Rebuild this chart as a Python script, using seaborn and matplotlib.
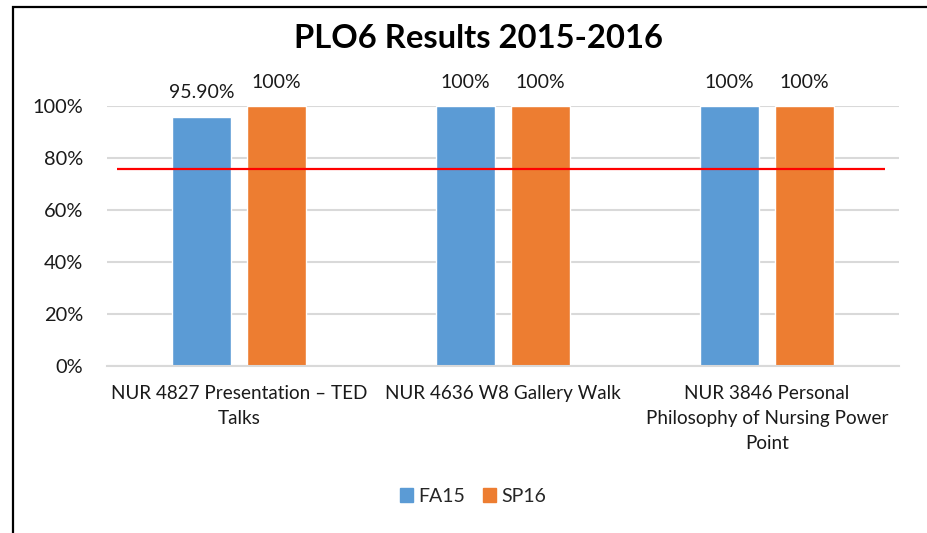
import pandas as pd
import numpy as np
import matplotlib
matplotlib.use('Agg')
import matplotlib.pyplot as plt
import matplotlib.patches as mpatches
import seaborn as sns

# Chart data
categories = ['NUR 4827 Presentation – TED\nTalks',
              'NUR 4636 W8 Gallery Walk',
              'NUR 3846 Personal\nPhilosophy of Nursing Power\nPoint']
terms = ['FA15', 'SP16']
fa15 = [0.959, 1.0, 1.0]
sp16 = [1.0, 1.0, 1.0]
fa15_labels = ['95.90%', '100%', '100%']
sp16_labels = ['100%', '100%', '100%']
target = 0.758
title = 'PLO6 Results 2015-2016'

# Long-form frame for seaborn
df = pd.DataFrame({'Course': categories * 2,
                   'Term': [terms[0]] * 3 + [terms[1]] * 3,
                   'Score': fa15 + sp16})

sns.set_style('white')
plt.rcParams['font.family'] = ['Lato', 'DejaVu Sans']

fig = plt.figure(figsize=(9.27, 5.33), dpi=100)
ax = fig.add_axes([0.1154, 0.3133, 0.8544, 0.4877])

sns.barplot(data=df, x='Course', y='Score', hue='Term',
            palette=['#5B9BD5', '#ED7D31'], width=0.568, gap=0.21,
            saturation=1, ax=ax, legend=False)

# value labels
for cont, labs in zip(ax.containers, [fa15_labels, sp16_labels]):
    ax.bar_label(cont, labels=labs, padding=11, fontsize=14, color='#1a1a1a')

# target line
ax.hlines(target, -0.462, 2.447, color='#FF0000', lw=1.6, zorder=5)

ax.set_ylim(0, 1)
ax.set_xlim(-0.5, 2.5)
ax.set_yticks(np.arange(0, 1.01, 0.2))
ax.set_yticklabels([f'{int(round(t * 100))}%' for t in np.arange(0, 1.01, 0.2)])
ax.yaxis.grid(True, color='#D9D9D9', lw=1.5)
ax.set_axisbelow(True)
for s in ['top', 'right', 'left']:
    ax.spines[s].set_visible(False)
ax.spines['bottom'].set_color('#D9D9D9')
ax.spines['bottom'].set_linewidth(1.5)
ax.tick_params(axis='y', length=0, pad=17, labelsize=14.4, labelcolor='#1a1a1a')
ax.tick_params(axis='x', length=0, pad=14, labelsize=13.6, labelcolor='#1a1a1a')
for t in ax.get_xticklabels():
    t.set_linespacing(1.55)
ax.set_xlabel('')
ax.set_ylabel('')

fig.text(0.516, 0.927, title, ha='center', va='center',
         fontsize=23.6, fontweight='bold', color='black')

handles = [mpatches.Patch(color=c, label=t) for c, t in zip(['#5B9BD5', '#ED7D31'], terms)]
fig.legend(handles=handles, loc='center', bbox_to_anchor=(0.510, 0.069), ncol=2,
           frameon=False, fontsize=14, handlelength=0.7, handleheight=0.7,
           handletextpad=0.25, columnspacing=0.9)

# chart border (partly cropped in the reference)
fig.patches.append(mpatches.Rectangle((13 / 927, -0.1), 1.2, 1 - 7 / 533 + 0.1,
                                      transform=fig.transFigure, fill=False,
                                      edgecolor='black', lw=1.6))

fig.savefig('out.png', dpi=100)
